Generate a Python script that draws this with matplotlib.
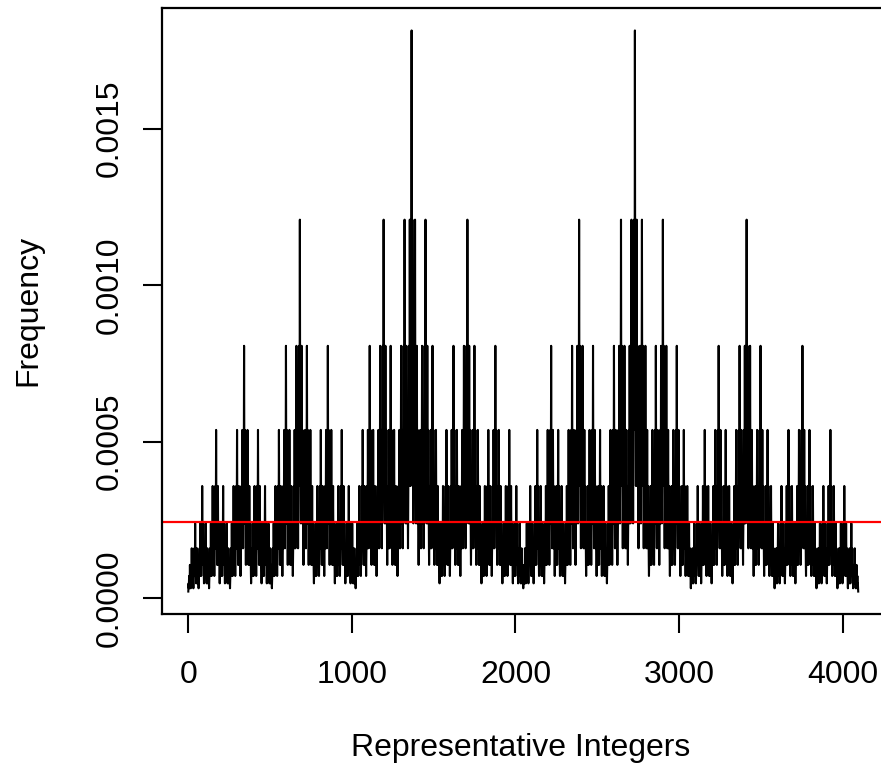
import numpy as np
import matplotlib
matplotlib.use("Agg")
import matplotlib.pyplot as plt

# Data: frequency of each 12-bit representative integer; each of the 11
# adjacent bit pairs switches with probability p_switch (read from the levels
# 0.00181, 0.00121, 0.00081, 0.00054, ... ratio 1.5).
n_bits = 12
p_switch = 0.6
integers = np.arange(2 ** n_bits)
transitions = np.array([bin(v ^ (v >> 1)).count("1") - (1 if v >= 2 ** (n_bits - 1) else 0)
                        for v in integers])
frequency = 0.5 * p_switch ** transitions * (1 - p_switch) ** (n_bits - 1 - transitions)
uniform_level = 1.0 / 2 ** n_bits

x_ticks = [0, 1000, 2000, 3000, 4000]
y_ticks = [0.0, 0.0005, 0.0010, 0.0015]
y_tick_labels = ["0.0000", "0.0005", "0.0010", "0.0015"]

plt.rcParams["font.family"] = ["Liberation Sans", "DejaVu Sans"]
W, H = 881, 768
fig = plt.figure(figsize=(W / 100, H / 100), dpi=100)
left, right, bottom, top = 161.5, 885, 614, 8
ax = fig.add_axes([left / W, (H - bottom) / H, (right - left) / W, (bottom - top) / H])

ax.plot(integers, frequency, color="black", lw=1.5)
ax.axhline(uniform_level, color="#ff0000", lw=1.6)

xr = integers.max() - integers.min()
ax.set_xlim(integers.min() - 0.04 * xr, integers.max() + 0.04 * xr)
yr = frequency.max() - frequency.min()
ax.set_ylim(frequency.min() - 0.04 * yr, frequency.max() + 0.04 * yr)

ax.set_xticks(x_ticks)
ax.set_xticklabels([str(t) for t in x_ticks])
ax.set_yticks(y_ticks)
ax.set_yticklabels(y_tick_labels, rotation=90, va="center")
ax.tick_params(axis="both", direction="out", length=13.7, width=1.5, labelsize=23)
ax.tick_params(axis="x", pad=19.5)
ax.tick_params(axis="y", pad=13)
for s in ax.spines.values():
    s.set_linewidth(1.6)

fig.text(28 / W, 1 - 310 / H, "Frequency", rotation=90, ha="center", va="center", fontsize=23)
fig.text(521 / W, 1 - 748 / H, "Representative Integers", ha="center", va="center", fontsize=23)

fig.savefig("out.png", dpi=100)
